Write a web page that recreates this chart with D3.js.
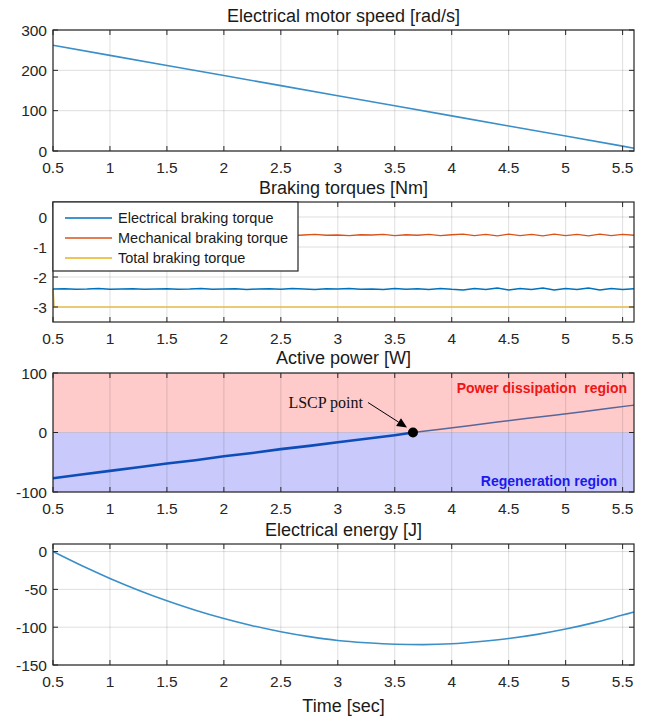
<!DOCTYPE html>
<html>
<head>
<meta charset="utf-8">
<script src="https://cdn.jsdelivr.net/npm/d3@7"></script>
<style>
  html, body { margin: 0; padding: 0; background: #fff; }
  svg { display: block; font-family: "Liberation Sans", Arial, sans-serif; }
</style>
</head>
<body>
<svg id="chart" width="660" height="719"></svg>
<script>
// ---- data ----
const xTicks = [0.5, 1, 1.5, 2, 2.5, 3, 3.5, 4, 4.5, 5, 5.5];
const xTickLabels = ["0.5", "1", "1.5", "2", "2.5", "3", "3.5", "4", "4.5", "5", "5.5"];

// motor speed [rad/s]
const speedTime = [0.5, 1, 1.5, 2, 2.5, 3, 3.5, 4, 4.5, 5, 5.5, 5.6];
const speedValues = [262, 237, 212, 187, 162, 137, 112, 87, 62, 37, 12, 7];
const speedTicks = [0, 100, 200, 300];

// braking torques [Nm], sampled every 0.1 s from 0.5 s to 5.6 s
const torqueTime = d3.range(52).map(i => +(0.5 + i * 0.1).toFixed(1));
const elecTorque = [
  -2.40, -2.39, -2.41, -2.40, -2.38, -2.41, -2.40, -2.39, -2.41, -2.40,
  -2.39, -2.41, -2.40, -2.38, -2.41, -2.40, -2.39, -2.42, -2.40, -2.39,
  -2.41, -2.38, -2.40, -2.42, -2.39, -2.40, -2.38, -2.41, -2.40, -2.42,
  -2.38, -2.41, -2.39, -2.42, -2.38, -2.41, -2.43, -2.38, -2.42, -2.37,
  -2.43, -2.38, -2.42, -2.37, -2.43, -2.38, -2.42, -2.37, -2.43, -2.38, -2.42, -2.39
];
const mechTorque = [
  -0.60, -0.61, -0.59, -0.60, -0.62, -0.59, -0.60, -0.61, -0.59, -0.60,
  -0.61, -0.59, -0.60, -0.62, -0.59, -0.60, -0.61, -0.58, -0.60, -0.61,
  -0.59, -0.62, -0.60, -0.58, -0.61, -0.60, -0.62, -0.59, -0.60, -0.58,
  -0.62, -0.59, -0.61, -0.58, -0.62, -0.59, -0.57, -0.62, -0.58, -0.63,
  -0.57, -0.62, -0.58, -0.63, -0.57, -0.62, -0.58, -0.63, -0.57, -0.62, -0.58, -0.61
];
const totalTime = [0.5, 0.51, 5.6];
const totalTorque = [-2.4, -3.0, -3.0];
const torqueTicks = [-3, -2, -1, 0];
const torqueNames = ["Electrical braking torque", "Mechanical braking torque", "Total braking torque"];

// active power [W]
const powerTimeRegen = [0.5, 0.75, 1, 1.25, 1.5, 1.75, 2, 2.25, 2.5, 2.75, 3, 3.25, 3.5, 3.66];
const powerRegen = [-77, -70.5, -64.5, -58.5, -52, -46.5, -40, -34.5, -28, -22.5, -16.5, -10.5, -4.5, 0];
const powerTimeDiss = [3.66, 3.9, 4.15, 4.4, 4.65, 4.9, 5.15, 5.4, 5.6];
const powerDiss = [0, 5.5, 11.5, 17.5, 23.5, 29, 35, 41, 46];
const powerTicks = [-100, 0, 100];
const lscpPoint = { t: 3.66, p: 0 };

// electrical energy [J]
const energyTime = [0.5, 0.75, 1, 1.25, 1.5, 1.75, 2, 2.25, 2.5, 2.75, 3, 3.25, 3.5, 3.75, 4, 4.25, 4.5, 4.75, 5, 5.25, 5.5, 5.6];
const energyValues = [0, -18.5, -35.5, -51, -65, -77.5, -88.5, -98, -106, -112.5, -117.5, -120.5, -122.5, -123, -122, -119, -115, -109.5, -102.5, -94, -84, -80];
const energyTicks = [-150, -100, -50, 0];

// ---- drawing ----
const svg = d3.select("#chart");
svg.append("rect").attr("width", 660).attr("height", 719).attr("fill", "#fff");

const X0 = 53, X1 = 634;
const x = d3.scaleLinear().domain([0.5, 5.6]).range([X0, X1]);
const axisColor = "#262626";
const tickFont = 15.5;

function makePanel(cfg) {
  const y = d3.scaleLinear().domain(cfg.yDomain).range([cfg.bottom, cfg.top]);
  const g = svg.append("g");
  const bg = g.append("g");
  const grid = g.append("g");
  const marks = g.append("g");
  const frame = g.append("g");

  // grid
  grid.selectAll("line.vx").data(xTicks).join("line")
    .attr("x1", d => x(d)).attr("x2", d => x(d))
    .attr("y1", cfg.top).attr("y2", cfg.bottom)
    .attr("stroke", axisColor).attr("stroke-opacity", 0.15).attr("stroke-width", 1);
  grid.selectAll("line.hy").data(cfg.yTicks).join("line")
    .attr("x1", X0).attr("x2", X1)
    .attr("y1", d => y(d)).attr("y2", d => y(d))
    .attr("stroke", axisColor).attr("stroke-opacity", 0.15).attr("stroke-width", 1);

  // inward ticks on all four sides
  const tl = 5;
  xTicks.forEach(t => {
    frame.append("line").attr("x1", x(t)).attr("x2", x(t)).attr("y1", cfg.bottom).attr("y2", cfg.bottom - tl)
      .attr("stroke", axisColor);
    frame.append("line").attr("x1", x(t)).attr("x2", x(t)).attr("y1", cfg.top).attr("y2", cfg.top + tl)
      .attr("stroke", axisColor);
  });
  cfg.yTicks.forEach(t => {
    frame.append("line").attr("x1", X0).attr("x2", X0 + tl).attr("y1", y(t)).attr("y2", y(t))
      .attr("stroke", axisColor);
    frame.append("line").attr("x1", X1).attr("x2", X1 - tl).attr("y1", y(t)).attr("y2", y(t))
      .attr("stroke", axisColor);
  });
  frame.append("rect").attr("x", X0).attr("y", cfg.top)
    .attr("width", X1 - X0).attr("height", cfg.bottom - cfg.top)
    .attr("fill", "none").attr("stroke", axisColor).attr("stroke-width", 1.2);

  // tick labels
  frame.selectAll("text.xt").data(xTicks).join("text")
    .attr("x", d => x(d)).attr("y", cfg.bottom + 22)
    .attr("text-anchor", "middle").attr("font-size", tickFont).attr("fill", axisColor)
    .text((d, i) => xTickLabels[i]);
  frame.selectAll("text.yt").data(cfg.yTicks).join("text")
    .attr("x", X0 - 6).attr("y", d => y(d)).attr("dy", "0.36em")
    .attr("text-anchor", "end").attr("font-size", tickFont).attr("fill", axisColor)
    .text(d => String(d));

  // title
  svg.append("text").attr("x", (X0 + X1) / 2).attr("y", cfg.titleY)
    .attr("text-anchor", "middle").attr("font-size", 18).attr("fill", "#1a1a1a")
    .text(cfg.title);

  return { y, bg, marks, frame };
}

const lineGen = (y) => d3.line().x(d => x(d[0])).y(d => y(d[1]));
const zip = (a, b) => a.map((v, i) => [v, b[i]]);

// Panel 1: motor speed
{
  const p = makePanel({ top: 30, bottom: 151, yDomain: [0, 300], yTicks: speedTicks,
    title: "Electrical motor speed [rad/s]", titleY: 22 });
  p.marks.append("path").datum(zip(speedTime, speedValues))
    .attr("d", lineGen(p.y)).attr("fill", "none")
    .attr("stroke", "#3a8fc8").attr("stroke-width", 1.6);
}

// Panel 2: braking torques
{
  const p = makePanel({ top: 202, bottom: 322, yDomain: [-3.5, 0.5], yTicks: torqueTicks,
    title: "Braking torques [Nm]", titleY: 194 });
  const colors = ["#0072BD", "#D95319", "#EDB120"];
  p.marks.append("path").datum(zip(totalTime, totalTorque))
    .attr("d", lineGen(p.y)).attr("fill", "none").attr("stroke", "#e8be50").attr("stroke-width", 1.6);
  p.marks.append("path").datum(zip(torqueTime, mechTorque))
    .attr("d", lineGen(p.y)).attr("fill", "none").attr("stroke", colors[1]).attr("stroke-width", 1.4);
  p.marks.append("path").datum(zip(torqueTime, elecTorque))
    .attr("d", lineGen(p.y)).attr("fill", "none").attr("stroke", colors[0]).attr("stroke-width", 1.5);

  // legend
  const lg = p.frame.append("g");
  lg.append("rect").attr("x", X0).attr("y", 202).attr("width", 245).attr("height", 69)
    .attr("fill", "#fff").attr("stroke", axisColor).attr("stroke-width", 1.2);
  torqueNames.forEach((name, i) => {
    const yy = 218 + i * 20;
    lg.append("line").attr("x1", 65).attr("x2", 112).attr("y1", yy).attr("y2", yy)
      .attr("stroke", colors[i]).attr("stroke-width", 1.6);
    lg.append("text").attr("x", 118).attr("y", yy).attr("dy", "0.36em")
      .attr("font-size", 14.5).attr("fill", "#1a1a1a").text(name);
  });
}

// Panel 3: active power
{
  const p = makePanel({ top: 373, bottom: 492, yDomain: [-100, 100], yTicks: powerTicks,
    title: "Active power [W]", titleY: 364 });
  const y = p.y;
  p.bg.append("rect").attr("x", X0).attr("y", y(100)).attr("width", X1 - X0)
    .attr("height", y(0) - y(100)).attr("fill", "#ffcaca");
  p.bg.append("rect").attr("x", X0).attr("y", y(0)).attr("width", X1 - X0)
    .attr("height", y(-100) - y(0)).attr("fill", "#c9c9fb");

  p.marks.append("path").datum(zip(powerTimeRegen, powerRegen))
    .attr("d", lineGen(y)).attr("fill", "none").attr("stroke", "#0d4db8").attr("stroke-width", 2.6);
  p.marks.append("path").datum(zip(powerTimeDiss, powerDiss))
    .attr("d", lineGen(y)).attr("fill", "none").attr("stroke", "#56679a").attr("stroke-width", 1.5);

  const cx = x(lscpPoint.t), cy = y(lscpPoint.p);
  p.marks.append("circle").attr("cx", cx).attr("cy", cy).attr("r", 5).attr("fill", "#000");

  // arrow from label to the point
  const tx = cx - 45, ty = cy - 30, hx = cx - 6, hy = cy - 5;
  const ang = Math.atan2(hy - ty, hx - tx);
  const hl = 10, hw = 4.5;
  const bx = hx - hl * Math.cos(ang), by = hy - hl * Math.sin(ang);
  p.marks.append("line").attr("x1", tx).attr("y1", ty).attr("x2", bx).attr("y2", by)
    .attr("stroke", "#000").attr("stroke-width", 1);
  p.marks.append("path")
    .attr("d", `M${hx},${hy}L${bx + hw * Math.sin(ang)},${by - hw * Math.cos(ang)}L${bx - hw * Math.sin(ang)},${by + hw * Math.cos(ang)}Z`)
    .attr("fill", "#000");
  p.marks.append("text").attr("x", tx - 5).attr("y", ty + 5)
    .attr("text-anchor", "end").attr("font-family", "'Liberation Serif', 'Times New Roman', serif")
    .attr("font-size", 16).attr("fill", "#111").text("LSCP point");

  p.marks.append("text").attr("x", 627).attr("y", 393).attr("text-anchor", "end")
    .attr("font-size", 14).attr("font-weight", "bold").attr("fill", "#f01515")
    .attr("xml:space", "preserve").style("white-space", "pre")
    .text("Power dissipation  region");
  p.marks.append("text").attr("x", 617).attr("y", 486).attr("text-anchor", "end")
    .attr("font-size", 14).attr("font-weight", "bold").attr("fill", "#1a1aee")
    .text("Regeneration region");
}

// Panel 4: electrical energy
{
  const p = makePanel({ top: 544, bottom: 665, yDomain: [-150, 10], yTicks: energyTicks,
    title: "Electrical energy [J]", titleY: 536 });
  p.marks.append("path").datum(zip(energyTime, energyValues))
    .attr("d", lineGen(p.y).curve(d3.curveMonotoneX)).attr("fill", "none")
    .attr("stroke", "#3a8fc8").attr("stroke-width", 1.6);
}

svg.append("text").attr("x", (X0 + X1) / 2).attr("y", 712)
  .attr("text-anchor", "middle").attr("font-size", 18).attr("fill", "#1a1a1a")
  .text("Time [sec]");
</script>
</body>
</html>
